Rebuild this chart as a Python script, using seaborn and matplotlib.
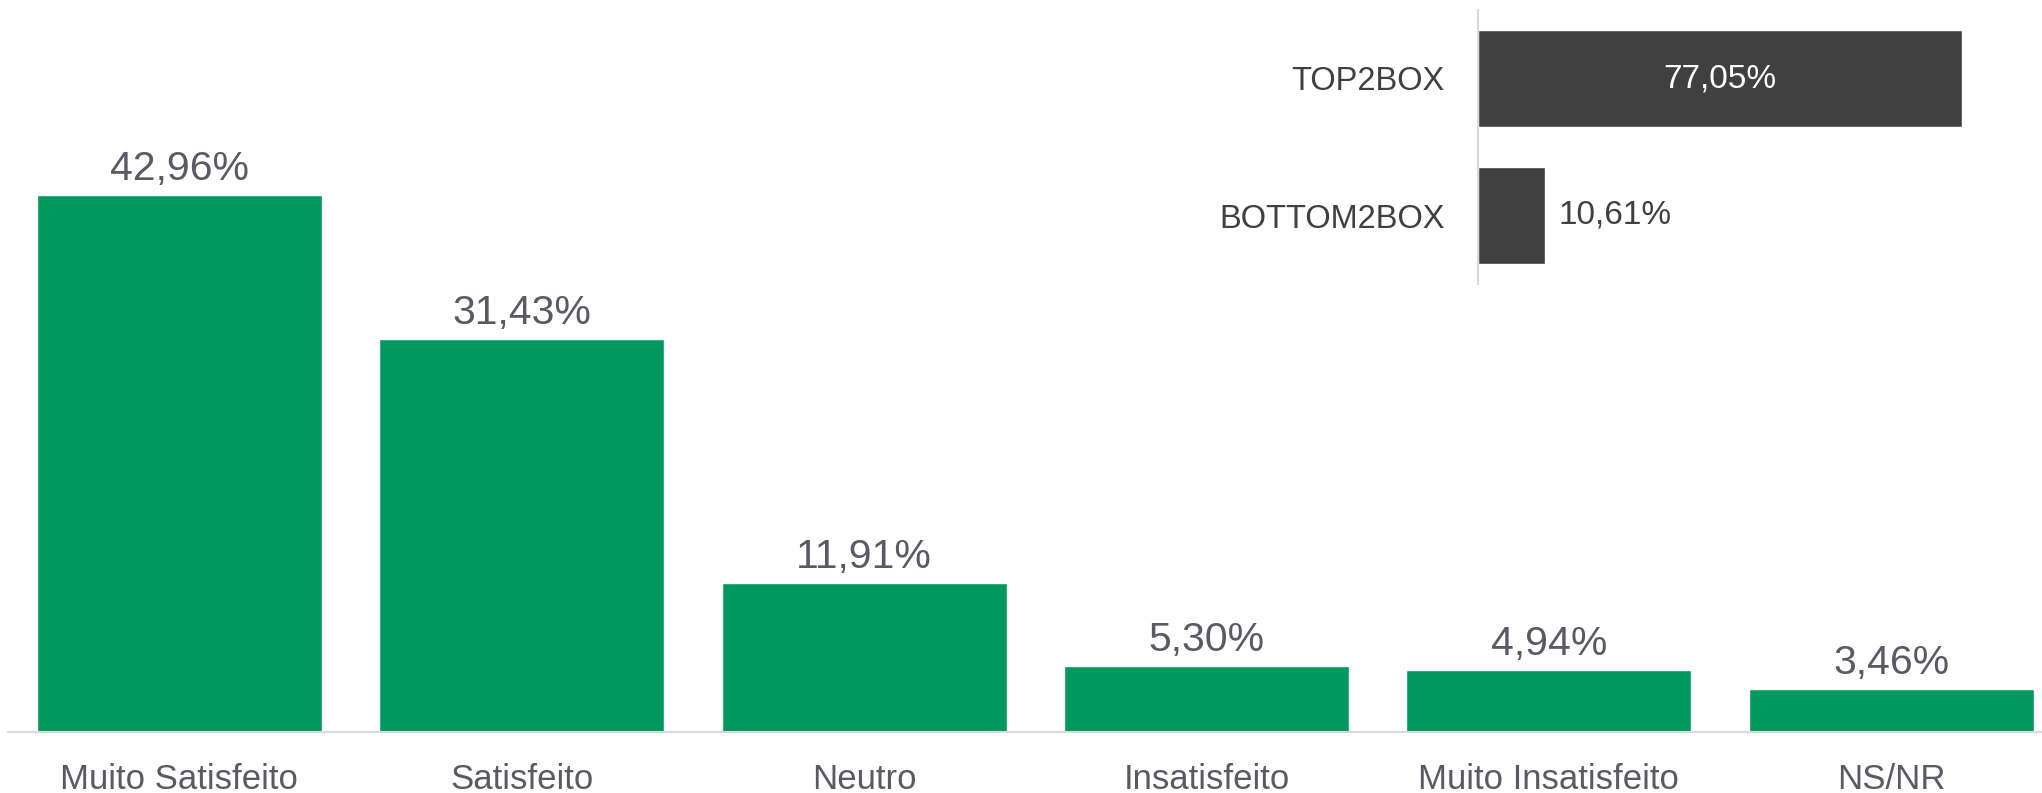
import matplotlib
matplotlib.use("Agg")
import matplotlib.pyplot as plt
import seaborn as sns

# data
categories = ["Muito Satisfeito", "Satisfeito", "Neutro", "Insatisfeito",
              "Muito Insatisfeito", "NS/NR"]
values = [42.96, 31.43, 11.91, 5.30, 4.94, 3.46]

box_labels = ["TOP2BOX", "BOTTOM2BOX"]
box_values = [77.05, 10.61]

green = "#00995D"
dark = "#404040"
text_grey = "#5A5A66"
line_grey = "#D9D9D9"


def pct(v):
    return f"{v:.2f}%".replace(".", ",")


sns.set_theme(style="white")
plt.rcParams["font.family"] = ["Liberation Sans", "DejaVu Sans"]

fig = plt.figure(figsize=(20.42, 7.93), dpi=100)

# main bar chart
ax = fig.add_axes([8 / 2042, 61 / 793, 1 - 8 / 2042, 732 / 793])
sns.barplot(x=categories, y=values, color=green, saturation=1, width=0.832, ax=ax)
ax.set_xlim(-0.5, 5.44)
ax.set_ylim(0, 58.6)
ax.set_xlabel("")
ax.set_ylabel("")
ax.set_yticks([])
for side in ["left", "right", "top"]:
    ax.spines[side].set_visible(False)
ax.spines["bottom"].set_color(line_grey)
ax.spines["bottom"].set_linewidth(1.5)
ax.tick_params(axis="x", length=0, pad=22, labelsize=25, labelcolor=text_grey)
ax.bar_label(ax.containers[0], labels=[pct(v) for v in values],
             padding=5, fontsize=29.5, color=text_grey)

# inset TOP2BOX / BOTTOM2BOX
ax2 = fig.add_axes([1478 / 2042, 509 / 793, 564 / 2042, 274 / 793])
sns.barplot(x=box_values, y=box_labels, orient="h", color=dark, saturation=1,
            width=0.715, ax=ax2)
ax2.set_xlim(0, 89.8)
ax2.set_ylim(1.5, -0.5)
ax2.set_xlabel("")
ax2.set_ylabel("")
ax2.set_xticks([])
for side in ["bottom", "right", "top"]:
    ax2.spines[side].set_visible(False)
ax2.spines["left"].set_color(line_grey)
ax2.spines["left"].set_linewidth(1.5)
ax2.tick_params(axis="y", length=0, pad=24, labelsize=23.5, labelcolor=dark)
bars = ax2.containers[0]
ax2.bar_label(bars, labels=[pct(box_values[0]), ""], label_type="center",
              fontsize=24, color="white")
ax2.bar_label(bars, labels=["", pct(box_values[1])], padding=10,
              fontsize=24, color=dark)

fig.savefig("out.png", dpi=100, facecolor="white")
